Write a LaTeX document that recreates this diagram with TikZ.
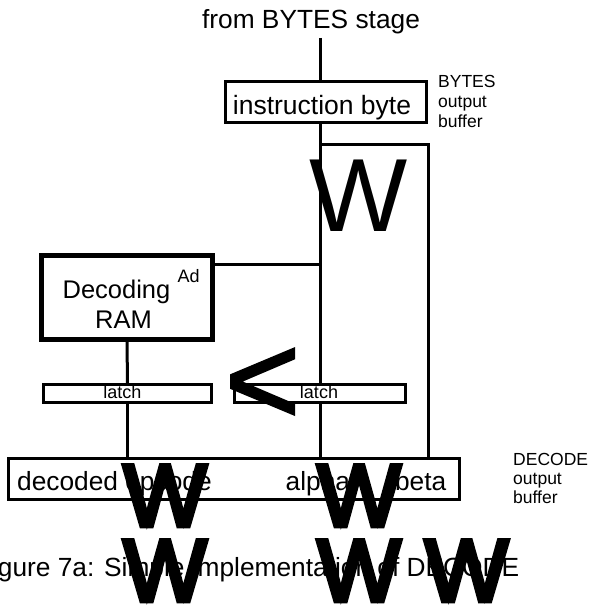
\documentclass[tikz,border=0pt]{standalone}
\usepackage{fontspec}
\setmainfont{Liberation Sans}
\newfontfamily\heavyfont[FakeBold=5.4]{Liberation Sans}
\newfontfamily\ltfont[FakeBold=1.8]{Liberation Sans}
\begin{document}
\begin{tikzpicture}[x=1pt,y=-1pt,
  wire/.style={line width=3pt},
  box/.style={draw, line width=3pt, inner sep=0pt, fill=white},
  txt/.style={inner sep=0pt, font=\fontsize{26.3}{26.3}\selectfont},
  boxtxt/.style={inner sep=0pt, font=\fontsize{26.5}{26.5}\selectfont},
  small/.style={inner sep=0pt, anchor=base west, font=\fontsize{17.5}{17.5}\selectfont},
  latchtxt/.style={inner sep=0pt, anchor=base, font=\fontsize{18}{18}\selectfont},
  glyphW/.style={inner sep=0pt, anchor=base, font=\fontsize{104}{104}\selectfont},
  heavyW/.style={inner sep=0pt, anchor=base, font=\heavyfont\fontsize{88}{88}\selectfont},
  heavyLT/.style={inner sep=0pt, anchor=base, font=\ltfont\fontsize{129}{129}\selectfont}]
\useasboundingbox (0,0) rectangle (593,609);
\clip (0,0) rectangle (593,609);

% boxes
\node[box, minimum width=200.5pt, minimum height=41.7pt] (ib) at (325.75,102.15) {};
\node[box, line width=5pt, minimum width=171pt, minimum height=84pt] (ram) at (127,297.5) {};
\node[box, minimum width=168pt, minimum height=18pt] (latchL) at (127.5,393.5) {};
\node[box, minimum width=171pt, minimum height=18pt] (latchR) at (320,393.5) {};
\node[box, minimum width=451pt, minimum height=41pt] (dec) at (234,479) {};

% coordinates
\coordinate (src) at (320,38);
\coordinate (bus) at (320,0);
\coordinate (tap) at (320,264);
\coordinate (br) at (320,145);
\coordinate (corner) at (428,145);

% wires
\draw[wire] (src) -- (src |- ib.north);
\draw[wire] (bus |- ib.south) -- (bus |- latchR.north);
\draw[wire] (bus |- latchR.south) -- (bus |- dec.north);
\draw[wire] (br) -- (corner) -- (corner |- dec.north);
\draw[wire] (ram.east |- tap) -- (tap);
\draw[wire] (ram.south) -- (latchL.north);
\draw[wire] (latchL.south) -- (latchL.south |- dec.north);

% texts
\node[txt, anchor=base] (srcT) at (311,29) {from BYTES stage};
\node[boxtxt, anchor=base] (ibT) at (322,115) {instruction byte};
\node[inner sep=0pt, anchor=base, font=\fontsize{25.5}{25.5}\selectfont] (ramT1) at (116.5,298) {Decoding};
\node[inner sep=0pt, anchor=base, font=\fontsize{25.5}{25.5}\selectfont] (ramT2) at (123.5,328) {RAM};
\node[inner sep=0pt, anchor=base west, font=\fontsize{18}{18}\selectfont] (ad) at (177.5,282) {Ad};
\node[latchtxt] (latchLT) at (122.5,398) {latch};
\node[latchtxt] (latchRT) at (319,398) {latch};
\node[txt, anchor=base west] (decT1) at (17,490) {decoded opcode};
\node[txt, anchor=base west] (decT2) at (285.5,490) {alpha};
\node[txt, anchor=base east] (decT3) at (446.5,490) {beta};
\node[small] (b1) at (438,88) {BYTES};
\node[small] (b2) at (438,108) {output};
\node[small] (b3) at (438,128) {buffer};
\node[small] (d1) at (513,465) {DECODE};
\node[small] (d2) at (513,484) {output};
\node[small] (d3) at (513,503) {buffer};
\node[txt, anchor=base east] (cap) at (519.5,576) {Figure 7a: Simple implementation of DECODE};

% overlaid glyphs
\node[glyphW] (w0) at (359,232) {W};
\node[heavyLT] (lt) at (262.5,424) {<};
\node[heavyW] (w1) at (165,526) {W};
\node[heavyW] (w2) at (359,526) {W};
\node[heavyW] (w3) at (165,601) {W};
\node[heavyW] (w4) at (359,601) {W};
\node[heavyW] (w5) at (466.5,601) {W};
\end{tikzpicture}
\end{document}
